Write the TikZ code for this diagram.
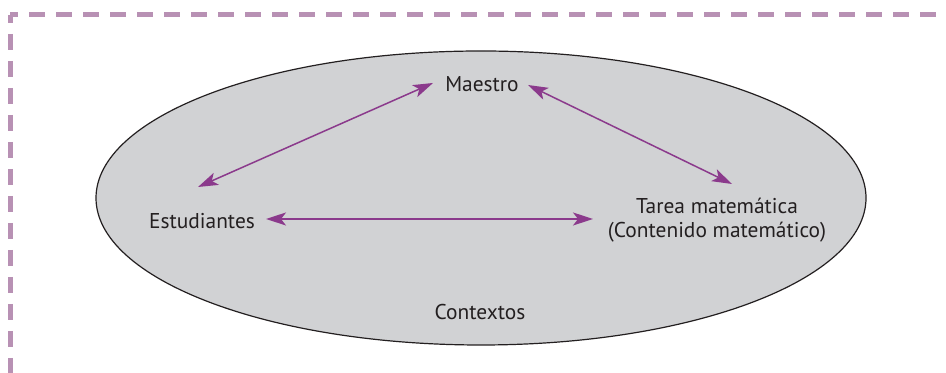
\documentclass[tikz,border=0pt]{standalone}
\usepackage{fontspec}
\setmainfont{PT Sans}
\usetikzlibrary{arrows.meta}
\definecolor{framelila}{RGB}{184,145,180}
\definecolor{arrowlila}{RGB}{139,58,140}
\definecolor{ovalgray}{RGB}{209,210,212}
\definecolor{inkdark}{RGB}{35,31,32}
\begin{document}
\begin{tikzpicture}[x=0.5pt, y=0.5pt]
    \tikzstyle{lbl} = [align=center, text=inkdark, font=\fontsize{10.7}{12}\selectfont, inner sep=0pt]
    \tikzstyle{arr} = [arrowlila, line width=0.75pt, {Stealth[length=10pt, width=6.5pt, inset=2.5pt]}-{Stealth[length=10pt, width=6.5pt, inset=2.5pt]}]
    \tikzstyle{frame} = [framelila, line width=2.5pt, dash pattern=on 8pt off 5.5pt, dash phase=4pt]

    \useasboundingbox (0, 0) rectangle (946, 373);

    \draw[frame] (10, 358) -- (10, 0);
    \draw[frame] (10, 358) -- (946, 358);

    \draw[inkdark, fill=ovalgray, line width=0.6pt] (481, 175) ellipse [x radius=192.5pt, y radius=73.5pt];

        \node[lbl] (maestro)     at (482, 289) {Maestro};
        \node[lbl] (estudiantes) at (202, 152) {Estudiantes};
        \node[lbl] (tarea)       at (717, 153) {Tarea matemática\\(Contenido matemático)};
        \node[lbl] (contextos)   at (480, 61)  {Contextos};

            \draw[arr] ([shift={(-49, 1)}]maestro.center) -- ([shift={(-4, 34)}]estudiantes.center);
            \draw[arr] ([shift={(46, -1)}]maestro.center) -- ([shift={(15, 36)}]tarea.center);
            \draw[arr] ([shift={(64, 2)}]estudiantes.center) -- ([shift={(-124, 1)}]tarea.center);
\end{tikzpicture}
\end{document}
